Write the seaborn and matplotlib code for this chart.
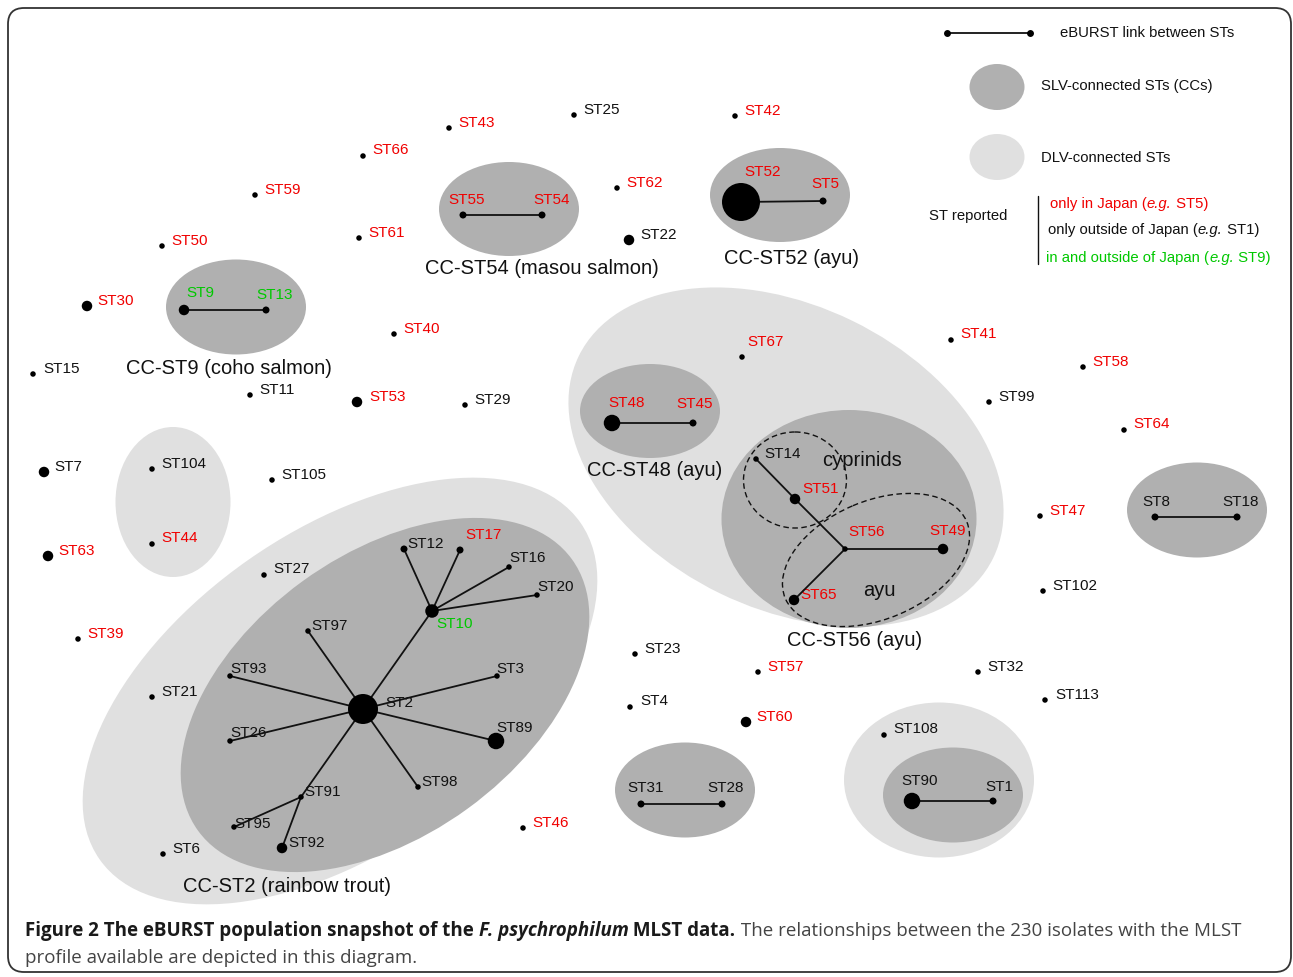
import matplotlib
matplotlib.use("Agg")
import matplotlib.pyplot as plt
from matplotlib.patches import Ellipse, FancyBboxPatch
from matplotlib import font_manager
import pandas as pd
import seaborn as sns

# ---------------------------------------------------------------- data
# eBURST layout of the sequence types (canvas pixel units, y grows downward)
st_names = ["ST43", "ST25", "ST42", "ST66", "ST59", "ST62", "ST61", "ST50", "ST22", "ST30",
            "ST40", "ST15", "ST11", "ST53", "ST29", "ST7", "ST104", "ST105", "ST44", "ST63",
            "ST27", "ST39", "ST21", "ST6", "ST46", "ST23", "ST4", "ST57", "ST60", "ST32",
            "ST113", "ST102", "ST47", "ST64", "ST99", "ST58", "ST41", "ST67", "ST9", "ST13",
            "ST55", "ST54", "ST52", "ST5", "ST48", "ST45", "ST14", "ST51", "ST56", "ST49",
            "ST65", "ST8", "ST18", "ST31", "ST28", "ST108", "ST90", "ST1", "ST2", "ST10",
            "ST12", "ST17", "ST16", "ST20", "ST97", "ST93", "ST3", "ST26", "ST89", "ST98",
            "ST91", "ST95", "ST92"]
st_x = [449, 574, 735, 363, 255, 617, 359, 162, 629, 87,
        394, 33, 250, 357, 465, 44, 152, 272, 152, 48,
        264, 78, 152, 163, 523, 635, 630, 758, 746, 978,
        1045, 1043, 1040, 1124, 989, 1083, 951, 742, 184, 266,
        463, 542, 741, 823, 612, 693, 756, 795, 845, 943,
        794, 1155, 1237, 641, 722, 884, 912, 993, 363, 432,
        404, 460, 509, 537, 308, 230, 497, 230, 496, 418,
        301, 234, 282]
st_y = [128, 115, 116, 156, 195, 188, 238, 246, 240, 306,
        334, 374, 395, 402, 405, 472, 469, 480, 544, 556,
        575, 639, 697, 854, 828, 654, 707, 672, 722, 672,
        700, 591, 516, 430, 402, 367, 340, 357, 310, 310,
        215, 215, 202, 201, 423, 423, 459, 499, 549, 549,
        600, 517, 517, 804, 804, 735, 801, 801, 709, 611,
        549, 550, 567, 595, 631, 676, 676, 741, 741, 787,
        797, 827, 848]
# node size class (proportional to number of isolates)
st_size = ["s", "s", "s", "s", "s", "s", "s", "s", "m", "m",
           "s", "s", "s", "m", "s", "m", "s", "s", "s", "m",
           "s", "s", "s", "s", "s", "s", "s", "s", "m", "s",
           "s", "s", "s", "s", "s", "s", "s", "s", "m", "ms",
           "ms", "ms", "xxl", "ms", "xl", "ms", "s", "m", "s", "m",
           "m", "ms", "ms", "ms", "ms", "s", "xl", "ms", "hub", "l",
           "ms", "ms", "s", "s", "s", "s", "s", "s", "xl", "s",
           "s", "s", "m"]
# where the ST was reported: jp = only in Japan, out = only outside, both
st_origin = ["jp", "out", "jp", "jp", "jp", "jp", "jp", "jp", "out", "jp",
             "jp", "out", "out", "jp", "out", "out", "out", "out", "jp", "jp",
             "out", "jp", "out", "out", "jp", "out", "out", "jp", "jp", "out",
             "out", "out", "jp", "jp", "out", "jp", "jp", "jp", "both", "both",
             "jp", "jp", "jp", "jp", "jp", "jp", "out", "jp", "jp", "jp",
             "jp", "out", "out", "out", "out", "out", "out", "out", "out", "both",
             "out", "jp", "out", "out", "out", "out", "out", "out", "out", "out",
             "out", "out", "out"]
label_dx = [9, 9, 9, 9, 9, 9, 9, 9, 11, 10,
            9, 10, 9, 12, 9, 10, 9, 9, 9, 10,
            9, 9, 9, 9, 9, 9, 10, 9, 10, 9,
            10, 9, 9, 9, 9, 9, 9, 5, 2, -10,
            -15, -9, 3, -12, -4, -17, 8, 7, 3, -14,
            6, -13, -15, -14, -15, 9, -11, -8, 22, 4,
            3, 5, 0, 0, 3, 0, -1, 0, 0, 3,
            3, 0, 6]
label_dy = [-5, -5, -5, -6, -5, -5, -5, -5, -5, -5,
            -5, -5, -5, -5, -5, -5, -5, -5, -6, -5,
            -6, -5, -5, -5, -5, -5, -6, -5, -5, -5,
            -5, -5, -5, -6, -5, -5, -6, -15, -17, -15,
            -15, -15, -30, -17, -20, -19, -5, -10, -17, -18,
            -5, -15, -15, -16, -16, -6, -20, -14, -6, 13,
            -5, -15, -9, -8, -5, -7, -7, -8, -13, -5,
            -5, -3, -5]

# single-locus-variant links found by eBURST
links = [("ST9", "ST13"), ("ST55", "ST54"), ("ST52", "ST5"), ("ST48", "ST45"),
         ("ST14", "ST51"), ("ST51", "ST56"), ("ST56", "ST49"), ("ST56", "ST65"),
         ("ST8", "ST18"), ("ST31", "ST28"), ("ST90", "ST1"),
         ("ST2", "ST10"), ("ST10", "ST12"), ("ST10", "ST17"), ("ST10", "ST16"),
         ("ST10", "ST20"), ("ST2", "ST97"), ("ST2", "ST93"), ("ST2", "ST3"),
         ("ST2", "ST26"), ("ST2", "ST89"), ("ST2", "ST98"), ("ST2", "ST91"),
         ("ST91", "ST95"), ("ST91", "ST92")]

# group outlines: centre, width, height, tilt, kind
hull_cx = [173, 340, 786, 939, 236, 509, 780, 650, 849, 1197, 685, 953, 385]
hull_cy = [502, 691, 457, 780, 307, 209, 195, 411, 519, 510, 790, 795, 695]
hull_w = [115, 587, 461, 190, 140, 140, 140, 140, 255, 140, 140, 140, 462]
hull_h = [150, 320, 303, 155, 95, 94, 94, 94, 218, 95, 95, 95, 281]
hull_angle = [0, -35, 26, 0, 0, 0, 0, 0, 0, 0, 0, 0, -36]
hull_kind = ["dlv", "dlv", "dlv", "dlv", "slv", "slv", "slv", "slv", "slv", "slv",
             "slv", "slv", "slv"]

# host sub-groups inside CC-ST56 (dashed)
host_cx = [795, 876]
host_cy = [480, 560]
host_w = [103, 197]
host_h = [96, 118]
host_angle = [0, -23]

cc_names = ["CC-ST9 (coho salmon)", "CC-ST54 (masou salmon)", "CC-ST52 (ayu)",
            "CC-ST48 (ayu)", "CC-ST56 (ayu)", "CC-ST2 (rainbow trout)", "cyprinids", "ayu"]
cc_x = [229, 542, 792, 655, 855, 287, 862, 879]
cc_y = [368, 269, 258, 470, 641, 887, 460, 590]

# ---------------------------------------------------------------- style
RED, GREEN, BLACK = "#f00000", "#00c800", "#111111"
origin_color = {"jp": RED, "out": BLACK, "both": GREEN}
DARK, LIGHT = "#b0b0b0", "#e0e0e0"
size_px = {"s": 5.5, "ms": 7.0, "m": 10.5, "l": 13.5, "xl": 16.5, "hub": 30, "xxl": 38}
size_area = {k: (v * 0.72) ** 2 for k, v in size_px.items()}

sns.set_theme(style="white")
plt.rcParams["font.family"] = ["Liberation Sans", "DejaVu Sans"]

W, H = 1293, 977
fig = plt.figure(figsize=(W / 100, H / 100), dpi=100)
ax = fig.add_axes([0, 0, 1, 1])

# outer frame
ax.add_patch(FancyBboxPatch((8, 8), 1283, 964,
                            boxstyle="round,pad=0,rounding_size=16",
                            fc="white", ec="#333333", lw=1.3, zorder=0))

# group hulls
for cx, cy, w, h, a, k in zip(hull_cx, hull_cy, hull_w, hull_h, hull_angle, hull_kind):
    ax.add_patch(Ellipse((cx, cy), w, h, angle=a, fc=DARK if k == "slv" else LIGHT,
                         ec="none", zorder=1 if k == "dlv" else 2))
for cx, cy, w, h, a in zip(host_cx, host_cy, host_w, host_h, host_angle):
    ax.add_patch(Ellipse((cx, cy), w, h, angle=a, fc="none", ec=BLACK, lw=1.0,
                         ls=(0, (4, 2.5)), zorder=3))

nodes = pd.DataFrame({"name": st_names, "x": st_x, "y": st_y, "size": st_size,
                      "origin": st_origin, "dx": label_dx, "dy": label_dy})
pos = nodes.set_index("name")[["x", "y"]]

# ST labels
for _, r in nodes.iterrows():
    ax.text(r.x + r.dx, r.y + r.dy, r["name"], color=origin_color[r.origin],
            fontsize=11, ha="left", va="center", zorder=4)

# links
for a, b in links:
    ax.plot([pos.loc[a, "x"], pos.loc[b, "x"]], [pos.loc[a, "y"], pos.loc[b, "y"]],
            color=BLACK, lw=1.3, solid_capstyle="butt", zorder=5)

sns.scatterplot(data=nodes, x="x", y="y", size="size", sizes=size_area,
                color="black", edgecolor="none", linewidth=0, legend=False,
                ax=ax, zorder=6)

for t, x, y in zip(cc_names, cc_x, cc_y):
    ax.text(x, y, t, fontsize=14.5, ha="center", va="center", color=BLACK, zorder=7)

# ---------------------------------------------------------------- key
ax.plot([947, 1030], [33, 33], color=BLACK, lw=1.3, zorder=5)
ax.scatter([947, 1030], [33, 33], s=size_area["s"], color="black", zorder=6)
ax.text(1060, 33, "eBURST link between STs", fontsize=10.7, va="center", color=BLACK)
ax.add_patch(Ellipse((997, 87), 55, 46, fc=DARK, ec="none"))
ax.text(1041, 86, "SLV-connected STs (CCs)", fontsize=10.7, va="center", color=BLACK)
ax.add_patch(Ellipse((997, 157), 55, 46, fc=LIGHT, ec="none"))
ax.text(1041, 158, "DLV-connected STs", fontsize=10.7, va="center", color=BLACK)
ax.text(929, 216, "ST reported", fontsize=10.7, va="center", color=BLACK)
ax.plot([1038, 1038], [196, 264], color=BLACK, lw=1.0)


def runs(x0, y0, parts, fs):
    x = x0
    r = fig.canvas.get_renderer()
    for s, kw in parts:
        t = ax.text(x, y0, s, fontsize=fs, va="center", ha="left", **kw)
        x += t.get_window_extent(r).width


runs(1050, 204, [("only in Japan (", dict(color=RED)), ("e.g.", dict(color=RED, style="italic")),
                 (" ST5)", dict(color=RED))], 10.7)
runs(1048, 230, [("only outside of Japan (", dict(color=BLACK)),
                 ("e.g.", dict(color=BLACK, style="italic")), (" ST1)", dict(color=BLACK))], 10.7)
runs(1046, 258, [("in and outside of Japan (", dict(color=GREEN)),
                 ("e.g.", dict(color=GREEN, style="italic")), (" ST9)", dict(color=GREEN))], 10.7)

# ---------------------------------------------------------------- caption
names = {f.name for f in font_manager.fontManager.ttflist}
cap_font = "Liberation Sans Narrow" if "Liberation Sans Narrow" in names else "Open Sans"
cap1 = [("Figure 2 The eBURST population snapshot of the ",
         dict(weight="bold", color="#1a1a1a", family=cap_font)),
        ("F. psychrophilum", dict(weight="bold", style="italic", color="#1a1a1a", family=cap_font)),
        (" MLST data.", dict(weight="bold", color="#1a1a1a", family=cap_font)),
        (" The relationships between the 230 isolates with the MLST",
         dict(color="#444444", family=cap_font))]
# size the caption so the first line spans the frame width
r = fig.canvas.get_renderer()
probe = [ax.text(0, 0, s, fontsize=14, **kw) for s, kw in cap1]
total = sum(p.get_window_extent(r).width for p in probe)
for p in probe:
    p.remove()
cap_fs = min(15.5, 14 * 1225 / total)
runs(25, 931, cap1, cap_fs)
runs(25, 958, [("profile available are depicted in this diagram.",
                dict(color="#444444", family=cap_font))], cap_fs)

ax.set_xlim(0, W)
ax.set_ylim(H, 0)
ax.set_axis_off()
fig.savefig("out.png", dpi=100)
